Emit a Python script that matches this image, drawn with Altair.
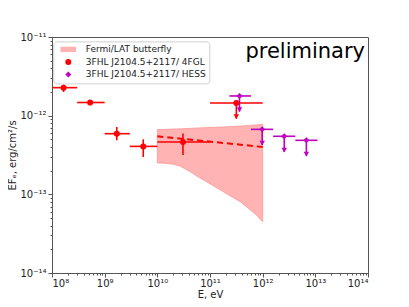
import altair as alt
import pandas as pd

# ---------------- data ----------------
series_names = ["Fermi/LAT butterfly", "3FHL J2104.5+2117/ 4FGL", "3FHL J2104.5+2117/ HESS"]

# 4FGL / 3FHL points (red)
fgl_E = [1.66e8, 5.3e8, 1.7e9, 5.4e9, 3.07e10, 3.16e11]
fgl_E_lo = [1e8, 3e8, 1e9, 3e9, 1e10, 1e11]
fgl_E_hi = [3e8, 1e9, 3e9, 1e10, 1e11, 1e12]
fgl_F = [2.27e-12, 1.47e-12, 5.9e-13, 4.07e-13, 4.62e-13, 1.45e-12]
fgl_F_lo = [2.0e-12, 1.36e-12, 4.86e-13, 2.98e-13, 3.16e-13, 1.45e-12]
fgl_F_hi = [2.48e-12, 1.57e-12, 7.18e-13, 5.0e-13, 5.92e-13, 1.45e-12]
fgl_ul = [False, False, False, False, False, True]

# HESS upper limits (magenta)
hess_E = [3.63e11, 9.8e11, 2.57e12, 6.76e12]
hess_E_lo = [2.34e11, 6.0e11, 1.58e12, 4.17e12]
hess_E_hi = [6.0e11, 1.58e12, 4.17e12, 1.1e13]
hess_F = [1.78e-12, 6.7e-13, 5.47e-13, 4.86e-13]
hess_ul = [True, True, True, True]

# Fermi/LAT butterfly
bf_E = [1e10, 1.4e10, 2e10, 2.75e10, 4.3e10, 6e10, 8.7e10, 1.26e11,
        1.82e11, 2.63e11, 3.8e11, 5.4e11, 7.8e11, 1e12]
bf_upper = [6.65e-13, 6.7e-13, 6.75e-13, 6.8e-13, 6.9e-13, 6.98e-13, 7.05e-13,
            7.12e-13, 7.2e-13, 7.28e-13, 7.38e-13, 7.5e-13, 7.65e-13, 7.76e-13]
bf_lower = [2.51e-13, 2.48e-13, 2.41e-13, 2.27e-13, 1.92e-13, 1.66e-13, 1.44e-13,
            1.24e-13, 1.07e-13, 9.25e-14, 8.0e-14, 6.6e-14, 5.4e-14, 4.47e-14]

# best-fit (dashed)
fit_E = [1e10, 1e12]
fit_F = [5.47e-13, 4.0e-13]

x_ticks = [float(m * 10 ** e) for e in range(8, 14) for m in range(1, 10)] + [1e14]
y_ticks = [m * 10.0 ** e for e in range(-14, -11) for m in range(1, 10)] + [1e-11]
x_labels = ["10⁸", "10⁹", "10¹⁰", "10¹¹", "10¹²", "10¹³", "10¹⁴"]
y_labels = ["10⁻¹⁴", "10⁻¹³", "10⁻¹²", "10⁻¹¹"]

# ---------------- tables ----------------
red = pd.DataFrame({"series": series_names[1], "E": fgl_E, "E_lo": fgl_E_lo, "E_hi": fgl_E_hi,
                    "F": fgl_F, "F_lo": fgl_F_lo, "F_hi": fgl_F_hi, "ul": fgl_ul})
mag = pd.DataFrame({"series": series_names[2], "E": hess_E, "E_lo": hess_E_lo, "E_hi": hess_E_hi,
                    "F": hess_F, "F_lo": hess_F, "F_hi": hess_F, "ul": hess_ul})
pts = pd.concat([red, mag], ignore_index=True)
bf = pd.DataFrame({"E": bf_E, "up": bf_upper, "lo": bf_lower})
fit = pd.DataFrame({"E": fit_E, "F": fit_F})

RED = "#ff0000"
MAG = "#bf00bf"
BF = "#ffb3b3"

is_major = "abs(log(datum.value)/LN10 - round(log(datum.value)/LN10)) < 1e-6"
xl = "[" + ",".join("'%s'" % s for s in x_labels) + "]"
yl = "[" + ",".join("'%s'" % s for s in y_labels) + "]"

x_axis = alt.Axis(values=x_ticks, title="E, eV", grid=False, labelOverlap=False,
                  labelExpr=f"({is_major}) ? {xl}[round(log(datum.value)/LN10) - 8] : ''",
                  tickSize={"condition": {"test": is_major, "value": 4}, "value": 2},
                  labelPadding=1, titlePadding=1)
y_axis = alt.Axis(values=y_ticks, title="EFₑ, erg/cm²/s", grid=False, labelOverlap=False,
                  labelExpr=f"({is_major}) ? {yl}[round(log(datum.value)/LN10) + 14] : ''",
                  tickSize={"condition": {"test": is_major, "value": 4}, "value": 2},
                  labelPadding=2, titlePadding=2)
xs = alt.Scale(type="log", domain=[1e8, 1e14], nice=False)
ys = alt.Scale(type="log", domain=[1e-14, 1e-11], nice=False)

def X(f):
    return alt.X(f + ":Q", scale=xs, axis=x_axis)

def Y(f):
    return alt.Y(f + ":Q", scale=ys, axis=y_axis)

area = alt.Chart(bf).mark_area(color=BF, opacity=1, stroke="#ff8f8f", strokeWidth=0.7).encode(
    x=X("E"), y=Y("up"), y2="lo:Q")

fitline = alt.Chart(fit).mark_line(color=RED, strokeWidth=2, strokeDash=[6, 4]).encode(
    x=X("E"), y=Y("F"))

def layers(df, col):
    xerr = alt.Chart(df).mark_rule(color=col, strokeWidth=1.6).encode(
        x=X("E_lo"), x2="E_hi:Q", y=Y("F"))
    yerr = alt.Chart(df).transform_filter("!datum.ul").mark_rule(color=col, strokeWidth=1.6).encode(
        x=X("E"), y=Y("F_lo"), y2="F_hi:Q")
    ul = alt.Chart(df).transform_filter("datum.ul").transform_calculate(
        F_end="datum.F * pow(10, -0.2)", F_head="datum.F * pow(10, -0.175)")
    ul_line = ul.mark_rule(color=col, strokeWidth=1.6).encode(x=X("E"), y=Y("F"), y2="F_end:Q")
    ul_head = ul.mark_point(shape="triangle-down", filled=True, color=col, size=30, opacity=1).encode(
        x=X("E"), y=Y("F_head"))
    return [xerr, yerr, ul_line, ul_head]

col_scale = alt.Scale(domain=series_names, range=[BF, RED, MAG])
shape_scale = alt.Scale(domain=series_names,
                        range=["M-2.6,-0.9H2.6V0.9H-2.6Z", "circle", "diamond"])

points = alt.Chart(pts).mark_point(filled=True, opacity=1, size=36).encode(
    x=X("E"), y=Y("F"),
    color=alt.Color("series:N", scale=col_scale, title=None,
                    legend=alt.Legend(orient="none", legendX=1.3, legendY=4.4)),
    shape=alt.Shape("series:N", scale=shape_scale, title=None),
    size=alt.Size("series:N", scale=alt.Scale(domain=series_names, range=[36, 36, 22]), legend=None),
)

text = alt.Chart(pd.DataFrame({"t": ["preliminary"]})).mark_text(
    align="right", baseline="alphabetic", fontSize=21, font="DejaVu Sans", color="black"
).encode(x=alt.value(313), y=alt.value(21), text="t:N")

chart = alt.layer(
    area, fitline, *layers(red, RED), *layers(mag, MAG), points, text
).properties(
    width=316, height=236,
    padding={"left": 44, "top": 29, "right": 30, "bottom": 32},
    autosize=alt.AutoSizeParams(type="none"),
).configure_view(stroke="#555", strokeWidth=1).configure_axis(
    domainColor="#555", tickColor="#555", labelFont="DejaVu Sans", titleFont="DejaVu Sans",
    labelFontSize=10, titleFontSize=10, labelColor="#222", titleColor="#222",
    titleFontWeight="normal",
).configure_legend(
    labelFont="DejaVu Sans", labelFontSize=9, labelColor="#222", labelLimit=300,
    fillColor="white", strokeColor="#d0d0d0", cornerRadius=3, padding=3.5,
    symbolSize=45, symbolOffset=7, labelOffset=13, rowPadding=2.5, symbolStrokeWidth=0,
)

chart.save("out.html", embed_options={"renderer": "svg", "actions": False})
